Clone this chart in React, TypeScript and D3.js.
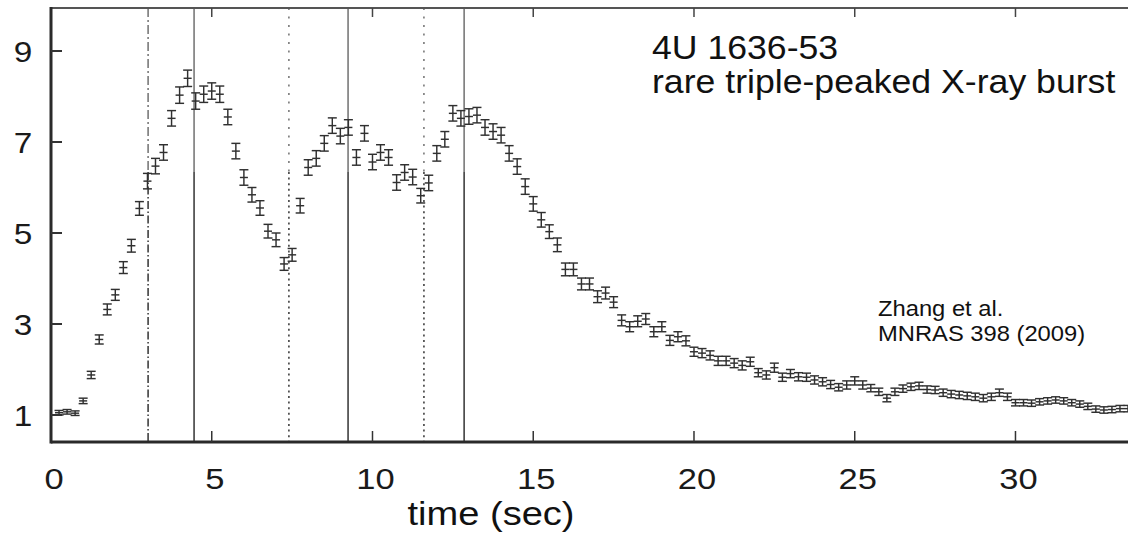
import React from 'react';
import * as d3 from 'd3';

const W = 1128;
const H = 535;

// uniform time bins (s)
const binStart = 0.25;
const binWidth = 0.25;

// count rate, one per 0.25 s bin
const countRate = [
  1.05, 1.07, 1.04, 1.31, 1.88, 2.66, 3.32, 3.64, 4.24, 4.72, 5.54, 6.14,
  6.47, 6.77, 7.52, 8.03, 8.40, 7.90, 8.05, 8.12, 8.05, 7.55, 6.80, 6.22,
  5.84, 5.55, 5.04, 4.85, 4.32, 4.52, 5.60, 6.44, 6.64, 6.97, 7.36, 7.13,
  7.32, 6.66, 7.19, 6.56, 6.77, 6.66, 6.11, 6.33, 6.23, 5.82, 6.10, 6.75,
  7.06, 7.63, 7.52, 7.56, 7.59, 7.32, 7.23, 7.15, 6.75, 6.46, 6.02, 5.64,
  5.29, 5.03, 4.74, 4.20, 4.20, 3.88, 3.88, 3.60, 3.68, 3.48, 3.08, 2.94,
  3.06, 3.11, 2.83, 2.94, 2.64, 2.72, 2.63, 2.39, 2.36, 2.31, 2.19, 2.19,
  2.14, 2.09, 2.17, 1.93, 1.88, 2.04, 1.83, 1.91, 1.84, 1.83, 1.77, 1.73,
  1.67, 1.61, 1.66, 1.75, 1.66, 1.59, 1.51, 1.37, 1.51, 1.58, 1.62, 1.64,
  1.56, 1.55, 1.49, 1.46, 1.44, 1.42, 1.40, 1.37, 1.40, 1.49, 1.40, 1.27,
  1.27, 1.26, 1.29, 1.31, 1.33, 1.31, 1.27, 1.24, 1.19, 1.13, 1.11, 1.12,
  1.14, 1.14,
];

// half error bar
const countErr = [
  0.05, 0.05, 0.05, 0.06, 0.08, 0.10, 0.12, 0.12, 0.13, 0.14, 0.15, 0.17,
  0.17, 0.17, 0.17, 0.18, 0.18, 0.18, 0.18, 0.18, 0.18, 0.17, 0.17, 0.17,
  0.16, 0.16, 0.15, 0.15, 0.14, 0.14, 0.16, 0.17, 0.17, 0.17, 0.17, 0.17,
  0.17, 0.17, 0.17, 0.17, 0.17, 0.17, 0.17, 0.17, 0.17, 0.16, 0.17, 0.17,
  0.17, 0.17, 0.17, 0.17, 0.17, 0.17, 0.17, 0.17, 0.17, 0.17, 0.17, 0.16,
  0.16, 0.15, 0.15, 0.14, 0.14, 0.13, 0.13, 0.13, 0.13, 0.12, 0.12, 0.11,
  0.12, 0.12, 0.11, 0.11, 0.11, 0.11, 0.11, 0.10, 0.10, 0.10, 0.10, 0.10,
  0.10, 0.10, 0.10, 0.09, 0.09, 0.10, 0.09, 0.09, 0.09, 0.09, 0.09, 0.09,
  0.09, 0.08, 0.09, 0.09, 0.09, 0.08, 0.08, 0.08, 0.08, 0.08, 0.08, 0.08,
  0.08, 0.08, 0.08, 0.08, 0.08, 0.08, 0.08, 0.08, 0.08, 0.08, 0.08, 0.07,
  0.07, 0.07, 0.07, 0.07, 0.07, 0.07, 0.07, 0.07, 0.07, 0.07, 0.07, 0.07,
  0.07, 0.07,
];

const xTicks = [0, 5, 10, 15, 20, 25, 30];
const yTicks = [1, 3, 5, 7, 9];

const peakTimes = [4.45, 9.24, 12.85]; // solid
const dipTimes = [7.4, 11.6]; // dotted
const onsetTimes = [3.02]; // dash-dot

const titleLines = ['4U 1636-53', 'rare triple-peaked X-ray burst'];
const refLines = ['Zhang et al.', 'MNRAS 398 (2009)'];
const xLabel = 'time (sec)';

const FONT = '"Liberation Sans", Arial, Helvetica, sans-serif';

export default function App() {
  const plotLeft = 51;
  const plotRight = 1128;
  const plotTop = 8;
  const plotBottom = 442;
  const split = 172;

  const x = d3.scaleLinear().domain([0, 33.5]).range([plotLeft, plotRight]);
  const y = d3.scaleLinear().domain([1, 9]).range([415, 51]);

  const points = countRate.map((v, i) => ({
    t: binStart + i * binWidth,
    v,
    e: countErr[i],
  }));

  const mark = '#303030';
  const capHalf = 4.5;

  const vline = (t: number, kind: 'solid' | 'dot' | 'dashdot', key: string) => {
    const px = x(t);
    const dashTop = kind === 'solid' ? undefined : kind === 'dot' ? '2,6.5' : '9,3,2,3';
    const dashBot = kind === 'solid' ? undefined : kind === 'dot' ? '2,3.6' : '8,2.5,1.5,2.5';
    return (
      <g key={key}>
        <line x1={px} x2={px} y1={plotTop} y2={split} stroke="#666" strokeWidth={1.4} strokeDasharray={dashTop} />
        <line x1={px} x2={px} y1={split} y2={plotBottom} stroke="#333" strokeWidth={1.5} strokeDasharray={dashBot} />
      </g>
    );
  };

  return (
    <svg width={W} height={H} style={{ position: 'absolute', left: 0, top: 0, background: '#fff' }} fontFamily={FONT}>
      <defs>
        <clipPath id="plotClip">
          <rect x={plotLeft} y={plotTop} width={plotRight - plotLeft} height={plotBottom - plotTop} />
        </clipPath>
      </defs>
      <rect x={0} y={0} width={W} height={H} fill="#fff" />

      {/* vertical markers */}
      {onsetTimes.map((t, i) => vline(t, 'dashdot', 'o' + i))}
      {dipTimes.map((t, i) => vline(t, 'dot', 'd' + i))}
      {peakTimes.map((t, i) => vline(t, 'solid', 'p' + i))}

      {/* data */}
      <g clipPath="url(#plotClip)" stroke={mark} strokeWidth={1.45} fill="none">
        {points.map((p, i) => {
          const cx = x(p.t);
          const yTop = y(p.v + p.e);
          const yBot = y(p.v - p.e);
          const yc = y(p.v);
          return (
            <g key={i}>
              <line x1={cx} x2={cx} y1={yTop} y2={yBot} />
              <line x1={cx - capHalf} x2={cx + capHalf} y1={yTop} y2={yTop} />
              <line x1={cx - capHalf} x2={cx + capHalf} y1={yBot} y2={yBot} />
              <line x1={x(p.t - binWidth / 2)} x2={x(p.t + binWidth / 2)} y1={yc} y2={yc} />
            </g>
          );
        })}
      </g>

      {/* frame */}
      <line x1={plotLeft} x2={plotRight} y1={plotTop} y2={plotTop} stroke="#555" strokeWidth={2} />
      <line x1={plotLeft} x2={plotRight} y1={plotBottom} y2={plotBottom} stroke="#2a2a2a" strokeWidth={3} />
      <line x1={plotLeft} x2={plotLeft} y1={plotTop - 1} y2={plotBottom + 1.5} stroke="#2a2a2a" strokeWidth={3} />

      {/* x ticks */}
      {xTicks.map((t) => (
        <g key={'xt' + t}>
          {t !== 0 && (
            <>
              <line x1={x(t)} x2={x(t)} y1={plotBottom} y2={plotBottom - 11} stroke="#333" strokeWidth={1.5} />
              <line x1={x(t)} x2={x(t)} y1={plotTop} y2={plotTop + 9} stroke="#444" strokeWidth={1.5} />
            </>
          )}
          <text
            transform={`translate(${x(t) + 3},${489}) scale(1.15,1)`}
            textAnchor="middle"
            fontSize={30}
            fill="#1a1a1a"
          >
            {t}
          </text>
        </g>
      ))}

      {/* y ticks */}
      {yTicks.map((v) => (
        <g key={'yt' + v}>
          <line x1={plotLeft} x2={plotLeft + 11} y1={y(v)} y2={y(v)} stroke="#333" strokeWidth={2} />
          <text
            transform={`translate(${23},${y(v) + 11}) scale(1.15,1)`}
            textAnchor="middle"
            fontSize={29}
            fill="#1a1a1a"
          >
            {v}
          </text>
        </g>
      ))}

      {/* axis title */}
      <text transform={`translate(${491},${525}) scale(1.12,1)`} textAnchor="middle" fontSize={34} fill="#111">
        {xLabel}
      </text>

      {/* annotation */}
      {titleLines.map((s, i) => (
        <text key={'tl' + i} transform={`translate(${652},${59 + i * 34}) scale(1.08,1)`} fontSize={33} fill="#111">
          {s}
        </text>
      ))}
      {refLines.map((s, i) => (
        <text key={'rl' + i} transform={`translate(${878},${316 + i * 25}) scale(1.08,1)`} fontSize={22} fill="#111">
          {s}
        </text>
      ))}
    </svg>
  );
}
